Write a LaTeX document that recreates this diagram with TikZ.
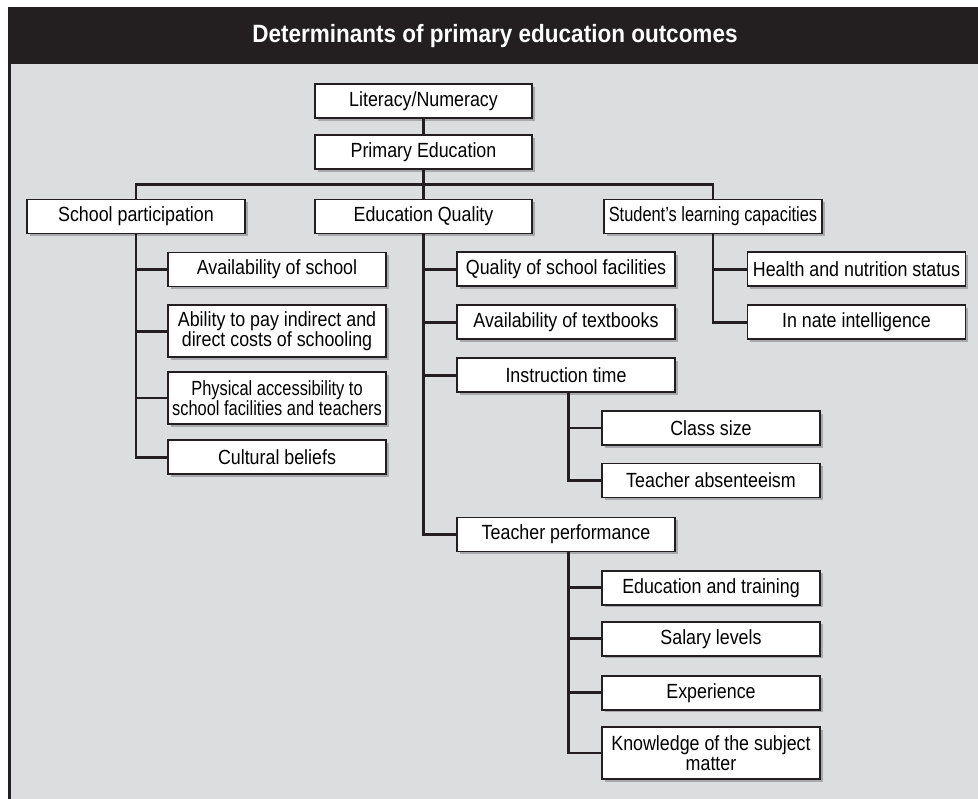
\documentclass[tikz,border=0pt]{standalone}
\usepackage{fontspec}
\setmainfont{Liberation Sans}
\newfontfamily\boxfont[FakeStretch=0.87]{Liberation Sans}
\newfontfamily\boxfontn[FakeStretch=0.8]{Liberation Sans}
\newfontfamily\titlefont[FakeStretch=0.9]{Liberation Sans Bold}
\usetikzlibrary{shadows}
\definecolor{hdr}{HTML}{231F20}
\definecolor{bg}{HTML}{DCDDDF}
\definecolor{shd}{HTML}{A7A9AC}
\begin{document}
\begin{tikzpicture}[x=1pt,y=-1pt,
  box/.style={draw=hdr, line width=1.6pt, fill=white, rectangle, minimum width=218pt, minimum height=34pt,
    inner sep=0pt, align=center, font=\boxfont\fontsize{20.5}{20}\selectfont,
    drop shadow={shadow xshift=2.6pt, shadow yshift=-2.6pt, fill=shd, opacity=1}},
  tall/.style={minimum height=52pt},
  narrowtext/.style={font=\boxfontn\fontsize{20.5}{20}\selectfont},
  conn/.style={draw=hdr, line width=2.8pt}
]
\useasboundingbox (0,0) rectangle (978,799);
\fill[white] (0,0) rectangle (978,799);
\fill[bg] (8,64) rectangle (978,799);
\fill[hdr] (8,7) rectangle (978,64);
\draw[hdr, line width=3pt] (9.3,7) -- (9.3,799);
\node[text=white, font=\titlefont\fontsize{25}{25}\selectfont] (title) at (495,36) {Determinants of primary education outcomes};

% top
\node[box, minimum width=217pt] (lit) at (423.5,101) {Literacy/Numeracy};
\node[box, minimum width=217pt] (prim) at (423.5,152) {Primary Education};
\node[box] (sp) at (136,216.5) {School participation};
\node[box, minimum width=217pt] (eq) at (423.5,216.5) {Education Quality};
\node[box, narrowtext] (slc) at (713,216.5) {Student’s learning capacities};

% school participation children
\node[box] (avs) at (277,269.7) {Availability of school};
\node[box, tall] (abl) at (277,331.2) {Ability to pay indirect and\\direct costs of schooling};
\node[box, tall, narrowtext] (phy) at (277,398) {Physical accessibility to\\school facilities and teachers};
\node[box] (cul) at (277,457.3) {Cultural beliefs};

% education quality children
\node[box] (qsf) at (566,269.3) {Quality of school facilities};
\node[box] (avt) at (566,322.2) {Availability of textbooks};
\node[box] (ins) at (566,375.3) {Instruction time};
\node[box] (tp) at (566,534.5) {Teacher performance};

% instruction time children
\node[box] (cls) at (711,428) {Class size};
\node[box] (tab) at (711,480.5) {Teacher absenteeism};

% teacher performance children
\node[box] (edt) at (711,587.7) {Education and training};
\node[box] (sal) at (711,638.8) {Salary levels};
\node[box] (exp) at (711,692.7) {Experience};
\node[box, tall] (kno) at (711,753) {Knowledge of the subject\\matter};

% student's learning capacities children
\node[box] (hns) at (856.5,269.3) {Health and nutrition status};
\node[box] (inn) at (856.5,322.2) {In nate intelligence};

% connectors
\coordinate (bar) at (423.5,184.7);
\path[conn] (lit.south) -- (prim.north);
\path[conn] (prim.south) -- (bar);
\path[conn] (sp.north) |- (bar);
\path[conn] (slc.north) |- (bar);
\path[conn] (bar) -- (eq.north);

\path[conn] (sp.south) |- (avs.west);
\path[conn] (sp.south) |- (abl.west);
\path[conn] (sp.south) |- (phy.west);
\path[conn] (sp.south) |- (cul.west);

\path[conn] (eq.south) |- (qsf.west);
\path[conn] (eq.south) |- (avt.west);
\path[conn] (eq.south) |- (ins.west);
\path[conn] (eq.south) |- (tp.west);

\coordinate (insb) at ([xshift=2.4pt]ins.south);
\path[conn] (insb) |- (cls.west);
\path[conn] (insb) |- (tab.west);

\coordinate (tpb) at ([xshift=2.4pt]tp.south);
\path[conn] (tpb) |- (edt.west);
\path[conn] (tpb) |- (sal.west);
\path[conn] (tpb) |- (exp.west);
\path[conn] (tpb) |- (kno.west);

\path[conn] (slc.south) |- (hns.west);
\path[conn] (slc.south) |- (inn.west);
\end{tikzpicture}
\end{document}
